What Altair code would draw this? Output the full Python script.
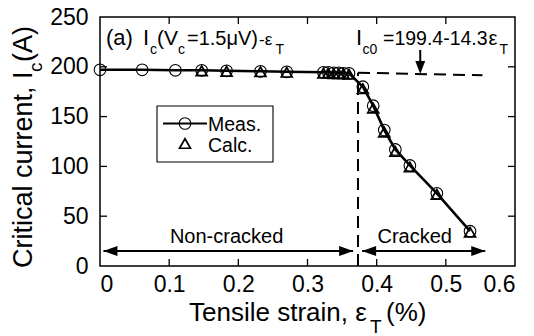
import altair as alt
import pandas as pd

FONT = "Liberation Sans"

# Measured critical current vs. tensile strain
strain_meas = [0.000, 0.061, 0.109, 0.147, 0.183, 0.232, 0.270, 0.323, 0.330, 0.338,
               0.345, 0.352, 0.360, 0.380, 0.395, 0.411, 0.427, 0.448, 0.487, 0.535]
ic_meas = [197.0, 197.0, 196.5, 196.5, 196.0, 195.5, 195.0, 194.5, 194.5, 194.0,
           194.0, 193.5, 193.5, 180.0, 161.0, 136.5, 117.0, 101.0, 73.0, 35.0]

# Calculated critical current
strain_calc = [0.147, 0.183, 0.232, 0.270, 0.323, 0.330, 0.338, 0.345, 0.352, 0.360,
               0.380, 0.395, 0.411, 0.427, 0.448, 0.487, 0.535]
ic_calc = [196.0, 195.5, 195.0, 194.5, 193.5, 193.5, 193.0, 193.0, 193.0, 192.5,
           178.0, 158.5, 134.5, 115.0, 99.5, 72.0, 34.0]

# Ic0 = 199.4 - 14.3 * eps (extrapolated non-cracked level)
ic0_a, ic0_b = 199.4, 14.3
crack_strain = 0.373
ic0_end_strain = 0.553
ic0_arrow_strain = 0.463

x_ticks = [0.0, 0.1, 0.2, 0.3, 0.4, 0.5, 0.6]
y_ticks = [0, 50, 100, 150, 200, 250]

W, H = 415, 249

xs = alt.Scale(domain=[0, 0.6], nice=False, zero=False)
ys = alt.Scale(domain=[0, 250], nice=False)


def ic0(e):
    return ic0_a - ic0_b * e


meas = pd.DataFrame({"strain": strain_meas, "ic": ic_meas})
calc = pd.DataFrame({"strain": strain_calc, "ic": ic_calc})

X = alt.X("strain:Q", scale=xs,
          axis=alt.Axis(values=x_ticks, title=None, domain=False, ticks=False, tickSize=0,
                        grid=False, labelFontSize=23, labelFont=FONT, labelColor="black",
                        labelPadding=7,
                        labelExpr="datum.value == 0 ? '0' : format(datum.value, '.1f')"))
Y = alt.Y("ic:Q", scale=ys,
          axis=alt.Axis(values=y_ticks, title=None, domain=False, ticks=False, tickSize=0,
                        grid=False, labelFontSize=23, labelFont=FONT, labelColor="black",
                        labelPadding=12))

# inward tick marks on all four sides
xt = pd.DataFrame({"strain": x_ticks[1:-1]})
yt = pd.DataFrame({"ic": y_ticks[1:-1]})
tick_len = 7
tick_layers = [
    alt.Chart(xt).mark_rule(color="black", strokeWidth=1.3).encode(
        x=alt.X("strain:Q", scale=xs), y=alt.value(H), y2=alt.value(H - tick_len)),
    alt.Chart(xt).mark_rule(color="black", strokeWidth=1.3).encode(
        x=alt.X("strain:Q", scale=xs), y=alt.value(0), y2=alt.value(tick_len)),
    alt.Chart(yt).mark_rule(color="black", strokeWidth=1.3).encode(
        y=alt.Y("ic:Q", scale=ys), x=alt.value(0), x2=alt.value(tick_len)),
    alt.Chart(yt).mark_rule(color="black", strokeWidth=1.3).encode(
        y=alt.Y("ic:Q", scale=ys), x=alt.value(W), x2=alt.value(W - tick_len)),
]

# dashed Ic0 line and crack-onset line
ic0_df = pd.DataFrame({"strain": [crack_strain, ic0_end_strain],
                       "ic": [ic0(crack_strain), ic0(ic0_end_strain)]})
ic0_line = alt.Chart(ic0_df).mark_line(color="black", strokeWidth=2, strokeDash=[12, 7]).encode(
    x=alt.X("strain:Q", scale=xs), y=alt.Y("ic:Q", scale=ys))
onset_df = pd.DataFrame({"strain": [crack_strain, crack_strain], "ic": [0, ic0(crack_strain)]})
onset_line = alt.Chart(onset_df).mark_line(color="black", strokeWidth=2, strokeDash=[12, 7]).encode(
    x=alt.X("strain:Q", scale=xs), y=alt.Y("ic:Q", scale=ys))

# data
meas_line = alt.Chart(meas).mark_line(color="black", strokeWidth=2.6).encode(x=X, y=Y)
calc_pts = alt.Chart(calc).mark_point(shape="triangle-up", size=120, filled=False,
                                      color="black", strokeWidth=1.7, opacity=1).encode(
    x=alt.X("strain:Q", scale=xs), y=alt.Y("ic:Q", scale=ys))
meas_pts = alt.Chart(meas).mark_point(shape="circle", size=135, filled=False,
                                      color="black", strokeWidth=1.1, opacity=1).encode(
    x=alt.X("strain:Q", scale=xs), y=alt.Y("ic:Q", scale=ys))

# arrow to the Ic0 line
arrow_top = 216.9
shaft_df = pd.DataFrame({"strain": [ic0_arrow_strain], "ic": [arrow_top], "ic2": [ic0(ic0_arrow_strain) + 8]})
shaft = alt.Chart(shaft_df).mark_rule(color="black", strokeWidth=2).encode(
    x=alt.X("strain:Q", scale=xs), y=alt.Y("ic:Q", scale=ys), y2="ic2:Q")
head_df = pd.DataFrame({"strain": [ic0_arrow_strain], "ic": [ic0(ic0_arrow_strain)]})
head_down = alt.Chart(head_df).mark_point(shape="M0,0L-0.38,-1L0.38,-1Z", size=676, filled=True,
                                          color="black", opacity=1).encode(
    x=alt.X("strain:Q", scale=xs), y=alt.Y("ic:Q", scale=ys))

# region arrows
region_y = 15
regions = pd.DataFrame({"x1": [0.005, 0.379], "x2": [0.366, 0.557], "ic": [region_y, region_y]})
region_rules = alt.Chart(regions).mark_rule(color="black", strokeWidth=2).encode(
    x=alt.X("x1:Q", scale=xs), x2="x2:Q", y=alt.Y("ic:Q", scale=ys))
heads_r = alt.Chart(regions).mark_point(shape="M0,0L-1,-0.36L-1,0.36Z", size=784, filled=True,
                                        color="black", opacity=1).encode(
    x=alt.X("x2:Q", scale=xs), y=alt.Y("ic:Q", scale=ys))
heads_l = alt.Chart(regions).mark_point(shape="M0,0L1,-0.36L1,0.36Z", size=784, filled=True,
                                        color="black", opacity=1).encode(
    x=alt.X("x1:Q", scale=xs), y=alt.Y("ic:Q", scale=ys))
region_labels = pd.DataFrame({"strain": [0.183, 0.455], "ic": [22.8, 22.8],
                              "name": ["Non-cracked", "Cracked"]})
region_text = alt.Chart(region_labels).mark_text(font=FONT, fontSize=20, color="black",
                                                 baseline="alphabetic", align="center").encode(
    x=alt.X("strain:Q", scale=xs), y=alt.Y("ic:Q", scale=ys), text="name:N")

one = pd.DataFrame({"k": [0]})


def label(txt, px, py, size, angle=0):
    return alt.Chart(one).mark_text(font=FONT, fontSize=size, color="black", align="left",
                                    baseline="alphabetic", angle=angle).encode(
        x=alt.value(px), y=alt.value(py), text=alt.value(txt))


# legend box
legend_box = alt.Chart(one).mark_rect(fill="white", stroke="black", strokeWidth=1.1).encode(
    x=alt.value(57), x2=alt.value(173), y=alt.value(89), y2=alt.value(145))
legend_line = alt.Chart(one).mark_rule(color="black", strokeWidth=2).encode(
    x=alt.value(63), x2=alt.value(107), y=alt.value(106.5))
legend_circle = alt.Chart(one).mark_point(shape="circle", size=135, filled=False, color="black",
                                          strokeWidth=1.1, opacity=1).encode(
    x=alt.value(85), y=alt.value(106.5))
legend_tri = alt.Chart(one).mark_point(shape="triangle-up", size=120, filled=False, color="black",
                                       strokeWidth=1.7, opacity=1).encode(
    x=alt.value(85), y=alt.value(126.5))

texts = [
    label("Meas.", 108, 114, 19.5),
    label("Calc.", 108, 135, 19.5),
    # (a) Ic(Vc=1.5µV)-εT
    label("(a)", 6, 28, 22),
    label("I", 43, 28, 22),
    label("c", 50, 37, 14),
    label("(V", 57, 28, 21),
    label("c", 78, 37, 14),
    label("=1.5\u03bcV)", 87, 28, 20),
    label("-\u03b5", 159, 28, 17),
    label("T", 175.5, 37, 14),
    # Ic0=199.4-14.3εT
    label("I", 256, 28, 22),
    label("c0", 262.5, 37, 14),
    label("=199.4-14.3", 283, 28, 19.5),
    label("\u03b5", 388.5, 28, 20),
    label("T", 399.5, 37, 14),
    # x axis title
    label("Tensile strain, \u03b5", 89, 304, 26),
    label("T", 270, 316, 19),
    label("(%)", 286, 304, 26),
    # y axis title
    label("Critical current, I", -68, 251, 27, angle=270),
    label("c", -58, 55, 19, angle=270),
    label("(A)", -68, 45, 27, angle=270),
]

chart = alt.layer(
    meas_line, *tick_layers, ic0_line, onset_line, calc_pts, meas_pts,
    shaft, head_down, region_rules, heads_r, heads_l, region_text,
    legend_box, legend_line, legend_circle, legend_tri, *texts,
).properties(
    width=W, height=H,
    padding={"left": 100, "top": 17, "right": 19, "bottom": 70},
    autosize=alt.AutoSizeParams(type="none"),
    background="white",
).configure_view(stroke="black", strokeWidth=1.5)

chart.save("out.html", embed_options={"renderer": "svg", "actions": False})
